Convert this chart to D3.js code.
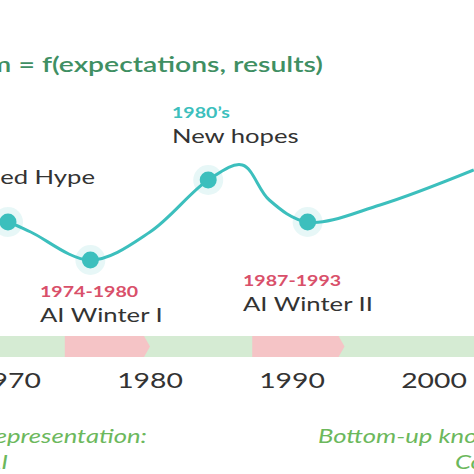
<!DOCTYPE html><html><head><meta charset="utf-8">
<script src="https://cdn.jsdelivr.net/npm/d3@7"></script>
<style>body{margin:0;background:#fff}text{font-family:Lato,"Open Sans",sans-serif}</style></head><body>
<svg id="c" width="474" height="474"></svg>
<script>
const curveYears=[1969.4,1970,1971.6,1975.8,1980,1984.1,1986.5,1988.4,1991.1,1996.2,2002.8];
const curveValues=[40,39,34,20,34,60,67.5,50,39,47.5,65];
const pointYears=[1970,1975.8,1984.1,1991.1];
const pointValues=[39,20,60,39];
const tickYears=[1970,1980,1990,2000];
const winters=[[1974,1980],[1987.2,1993.7]];
const svg=d3.select("#c");
const x=d3.scaleLinear().domain([1970,2000]).range([8,434]);
const y=d3.scaleLinear().domain([0,100]).range([300,100]);
const SX=1.35;
svg.append("rect").attr("x",0).attr("y",336).attr("width",474).attr("height",21).attr("fill","#d5ebd3");
winters.forEach(w=>{const a=x(w[0]),b=x(w[1]);
 svg.append("path").attr("d",`M${a},336H${b-6}L${b},346.5L${b-6},357H${a}Z`).attr("fill","#f5c4c6");});
const T=(t,xx,yy,o)=>svg.append("text").attr("transform",`translate(${xx},${yy}) scale(${SX},1)`).attr("font-size",o.s).attr("fill",o.c).attr("font-weight",o.w||"normal").attr("font-style",o.i||"normal").attr("text-anchor",o.a||"start").text(t);
tickYears.forEach(t=>T(t,x(t),388,{s:21,c:"#333",a:"middle"}));
const line=d3.line().x((d,i)=>x(curveYears[i])).y(d=>y(d)).curve(d3.curveCatmullRom.alpha(0.5));
svg.append("path").attr("d",line(curveValues)).attr("fill","none").attr("stroke","#3cbfbd").attr("stroke-width",3);
pointYears.forEach((p,i)=>{
 svg.append("circle").attr("cx",x(p)).attr("cy",y(pointValues[i])).attr("r",15).attr("fill","#3cbfbd").attr("opacity",0.12);
 svg.append("circle").attr("cx",x(p)).attr("cy",y(pointValues[i])).attr("r",8.5).attr("fill","#3cbfbd");});
T("Enthusiasm = f(expectations, results)",323,72,{s:21,c:"#3f8f63",w:"600",a:"end"});
T("1980’s",172,118,{s:14.5,c:"#3cbfbd",w:"bold"});
T("New hopes",172,143,{s:19,c:"#333"});
T("Unfounded Hype",95,184,{s:19,c:"#333",a:"end"});
T("1974-1980",40,297,{s:14.5,c:"#d9506a",w:"bold"});
T("AI Winter I",40,322,{s:19,c:"#333"});
T("1987-1993",243,286,{s:14.5,c:"#d9506a",w:"bold"});
T("AI Winter II",243,311,{s:19,c:"#333"});
T("Top-down knowledge representation:",147,443,{s:19,c:"#6cb85c",i:"italic",a:"end"});
T("Symbolic AI",8,469,{s:19,c:"#6cb85c",i:"italic",a:"end"});
T("Bottom-up knowledge",318,443,{s:19,c:"#6cb85c",i:"italic"});
T("Connectionism",455,469,{s:19,c:"#6cb85c",i:"italic"});
</script></body></html>
